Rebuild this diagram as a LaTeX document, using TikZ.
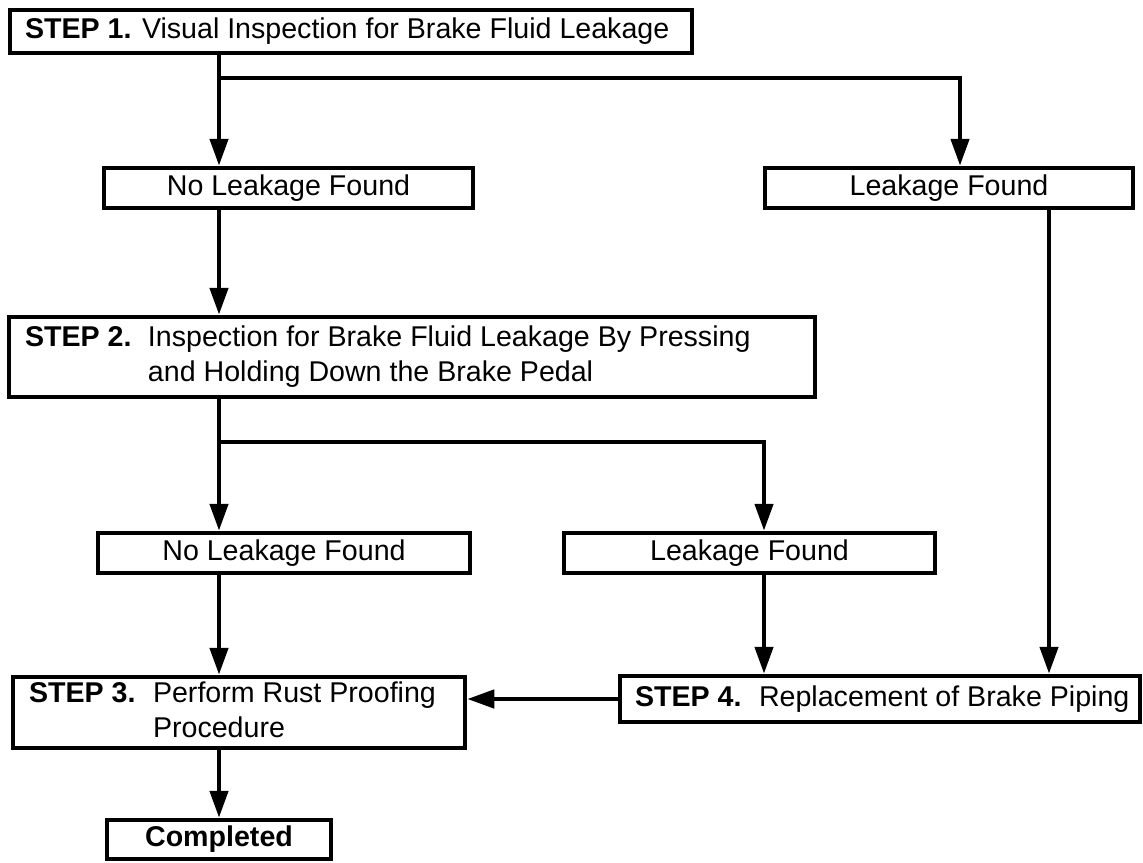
\documentclass[tikz,border=0pt]{standalone}
\usepackage{fontspec}
\setmainfont{Liberation Sans}
\usetikzlibrary{arrows.meta}
\begin{document}
\begin{tikzpicture}[x=1pt,y=-1pt, line width=4.5pt,
  font=\fontsize{28.6}{35}\selectfont,
  box/.style={draw, inner sep=0pt, align=center},
  lbox/.style={draw, inner ysep=0pt, inner xsep=15pt},
  arr/.style={-{Triangle[length=27pt,width=18pt]}}]
\useasboundingbox (0,0) rectangle (1143,862);

% boxes
\node[lbox, minimum height=43pt] (s1) at (351,31.5)
  {\makebox[652pt][l]{\makebox[117pt][l]{\textbf{STEP 1.}}Visual Inspection for Brake Fluid Leakage}};
\node[box, minimum width=369pt, minimum height=40pt] (nl1) at (288.5,188) {No Leakage Found};
\node[box, minimum width=368pt, minimum height=40pt] (lf1) at (949,188) {Leakage Found};
\node[lbox, inner xsep=16pt, minimum height=80pt] (s2) at (412,357)
  {\makebox[774pt][l]{\makebox[123pt][l]{\textbf{STEP 2.}}\begin{tabular}[t]{@{}l@{}}Inspection for Brake Fluid Leakage By Pressing\\and Holding Down the Brake Pedal\end{tabular}}};
\node[box, minimum width=372pt, minimum height=40pt] (nl2) at (284,553) {No Leakage Found};
\node[box, minimum width=371pt, minimum height=40pt] (lf2) at (749.5,553) {Leakage Found};
\node[lbox, inner xsep=16pt, minimum height=71pt] (s3) at (239,712.5)
  {\makebox[420pt][l]{\makebox[124pt][l]{\textbf{STEP 3.}}\begin{tabular}[t]{@{}l@{}}Perform Rust Proofing\\Procedure\end{tabular}}};
\node[lbox, minimum height=46pt] (s4) at (880,699)
  {\makebox[490pt][l]{\makebox[124pt][l]{\textbf{STEP 4.}}Replacement of Brake Piping}};
\node[box, minimum width=224pt, minimum height=39pt] (done) at (219,839.5) {\textbf{Completed}};

% branch points
\coordinate (b1) at (219,78);
\coordinate (b1r) at (960,78);
\coordinate (x2) at (1049,0);
\coordinate (b2) at (219,442);
\coordinate (b2r) at (764,442);

% connectors
\draw (s1.south -| b1) -- (b1);
\draw[arr] (b1) -- (nl1.north -| b1);
\draw[arr] (b1) -- (b1r) -- (lf1.north -| b1r);
\draw[arr] (nl1.south -| b1) -- (s2.north -| b1);
\draw[arr] (lf1.south -| x2) -- (s4.north -| x2);
\draw (s2.south -| b2) -- (b2);
\draw[arr] (b2) -- (nl2.north -| b2);
\draw[arr] (b2) -- (b2r) -- (lf2.north -| b2r);
\draw[arr] (nl2.south -| b2) -- (s3.north -| b2);
\draw[arr] (lf2.south -| b2r) -- (s4.north -| b2r);
\draw[arr] (s4.west) -- (s3.east |- s4.west);
\draw[arr] (s3.south -| b2) -- (done.north -| b2);
\end{tikzpicture}
\end{document}
